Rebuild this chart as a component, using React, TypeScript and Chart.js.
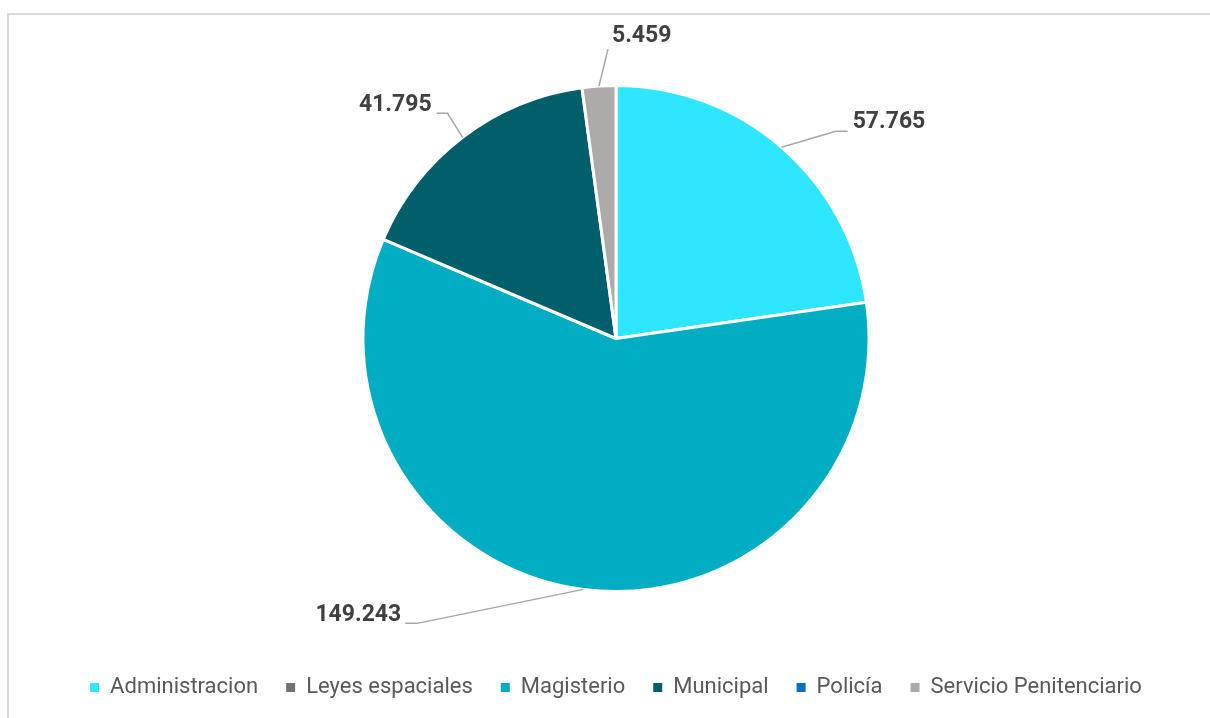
import React, { useEffect, useRef } from "react";
import { Chart, registerables } from "chart.js";

Chart.register(...registerables);

const categories = [
  "Administracion",
  "Leyes espaciales",
  "Magisterio",
  "Municipal",
  "Policía",
  "Servicio Penitenciario",
];
const values = [57765, 0, 149243, 41795, 0, 5459];
const colors = ["#2EE6FF", "#767171", "#00ADC2", "#005F6B", "#0070C0", "#AEAAAA"];

// label leader styling (offsets relative to slice edge point)
const labelElbow: Array<[number, number]> = [[54, -16], [0, 0], [-166, 34], [-15, -24], [0, 0], [9, -37]];
const labelTail = [12, 0, -12, -11, 0, 0];
const labelTextOffset: Array<[number, number]> = [[5, -9], [0, 0], [-4, -8], [-5, -8], [0, 0], [4, -13]];
const labelAlign: CanvasTextAlign[] = ["left", "left", "right", "right", "left", "left"];

const fmt = (v: number) => String(v).replace(/\B(?=(\d{3})+(?!\d))/g, ".");

const leaderPlugin = {
  id: "leaderLabels",
  afterDatasetsDraw(chart: any) {
    const ctx = chart.ctx as CanvasRenderingContext2D;
    const meta = chart.getDatasetMeta(0);
    meta.data.forEach((arc: any, i: number) => {
      const v = values[i];
      if (!v) return;
      const { x, y, startAngle, endAngle, outerRadius } = arc.getProps(
        ["x", "y", "startAngle", "endAngle", "outerRadius"],
        true
      );
      const mid = (startAngle + endAngle) / 2;
      const ax = x + Math.cos(mid) * outerRadius;
      const ay = y + Math.sin(mid) * outerRadius;
      const ex = ax + labelElbow[i][0];
      const ey = ay + labelElbow[i][1];
      const tx = ex + labelTail[i];
      const ty = ey;
      ctx.save();
      ctx.strokeStyle = "#A6A6A6";
      ctx.lineWidth = 1.5;
      ctx.beginPath();
      ctx.moveTo(ax, ay);
      ctx.lineTo(ex, ey);
      if (labelTail[i] !== 0) ctx.lineTo(tx, ty);
      ctx.stroke();
      ctx.fillStyle = "#404040";
      ctx.font = "bold 23px Roboto";
      ctx.textAlign = labelAlign[i];
      ctx.textBaseline = "middle";
      ctx.fillText(fmt(v), tx + labelTextOffset[i][0], ty + labelTextOffset[i][1]);
      ctx.restore();
    });
  },
};

export default function App() {
  const ref = useRef<HTMLCanvasElement | null>(null);
  useEffect(() => {
    if (!ref.current) return;
    const chart = new Chart(ref.current, {
      type: "pie",
      data: {
        labels: categories,
        datasets: [
          {
            data: values,
            backgroundColor: colors,
            borderColor: "#FFFFFF",
            borderWidth: 3,
          },
        ],
      },
      options: {
        animation: false,
        responsive: true,
        maintainAspectRatio: false,
        radius: 253,
        layout: { padding: { left: 13, right: 0, top: 13.5, bottom: 16.5 } },
        plugins: {
          tooltip: { enabled: false },
          legend: {
            position: "bottom",
            labels: {
              boxWidth: 9,
              boxHeight: 9,
              padding: 28,
              color: "#595959",
              font: { family: "Roboto", size: 22 },
              generateLabels(ch: any) {
                const items = Chart.overrides.pie.plugins.legend.labels.generateLabels(ch);
                return items.map((it: any) => ({ ...it, lineWidth: 0, strokeStyle: it.fillStyle }));
              },
            },
          },
        },
      } as any,
      plugins: [leaderPlugin],
    });
    return () => chart.destroy();
  }, []);

  return (
    <div
      style={{
        position: "absolute",
        left: 7,
        top: 13,
        width: 1203,
        height: 705,
        borderTop: "2px solid #D9D9D9",
        borderLeft: "2px solid #D9D9D9",
        boxSizing: "border-box",
        overflow: "hidden",
        background: "#fff",
      }}
    >
      <div style={{ position: "relative", width: 1201, height: 710 }}>
        <canvas ref={ref} />
      </div>
    </div>
  );
}
